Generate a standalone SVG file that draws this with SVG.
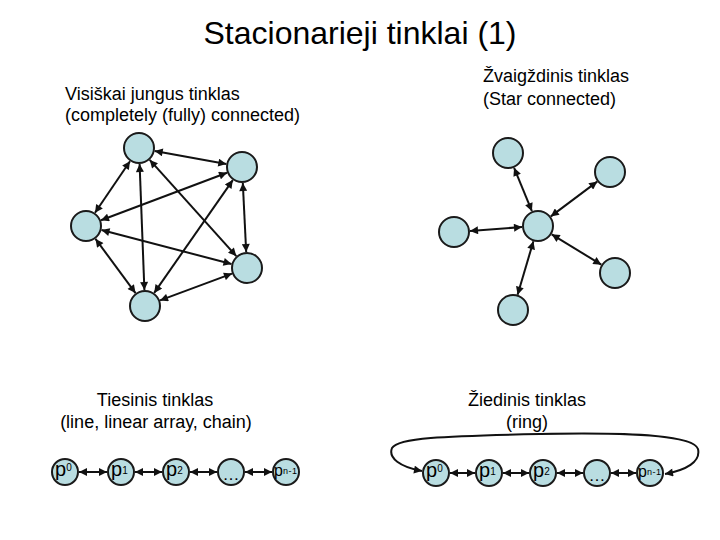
<svg xmlns="http://www.w3.org/2000/svg" width="720" height="540" viewBox="0 0 720 540">
<defs>
<marker id="ah" viewBox="0 0 10 10" refX="10" refY="5" markerWidth="4.5" markerHeight="4" orient="auto-start-reverse" markerUnits="strokeWidth">
<path d="M0,0 L10,5 L0,10 z" fill="#111"/>
</marker>
</defs>
<style>
.t{font-family:"Liberation Sans",Arial,sans-serif;fill:#000}
.title{font-size:32px}
.lbl{font-size:18px}
.n{fill:#b9dde1;stroke:#1a1a1a;stroke-width:2}
.e{stroke:#111;stroke-width:2;fill:none;marker-start:url(#ah);marker-end:url(#ah)}
.p{font-family:"Liberation Sans",Arial,sans-serif;font-size:20px;fill:#000}
.s{font-size:10px}
.sn{font-size:9px;letter-spacing:0.6px}
</style>
<rect width="720" height="540" fill="#fff"/>
<text class="t title" x="360" y="44" text-anchor="middle">Stacionarieji tinklai (1)</text>
<text class="t lbl" x="65" y="100">Visiškai jungus tinklas</text>
<text class="t lbl" x="65" y="121">(completely (fully) connected)</text>
<text class="t lbl" x="483" y="82">Žvaigždinis tinklas</text>
<text class="t lbl" x="483" y="105">(Star connected)</text>
<text class="t lbl" x="155" y="406" text-anchor="middle">Tiesinis tinklas</text>
<text class="t lbl" x="156" y="428" text-anchor="middle">(line, linear array, chain)</text>
<text class="t lbl" x="527" y="406" text-anchor="middle">Žiedinis tinklas</text>
<text class="t lbl" x="527" y="428" text-anchor="middle">(ring)</text>
<g id="connectors">
<line class="e" x1="154.7" y1="150.9" x2="226.3" y2="164.1"/>
<line class="e" x1="130.0" y1="161.2" x2="95.0" y2="212.8"/>
<line class="e" x1="139.6" y1="164.0" x2="144.4" y2="290.0"/>
<line class="e" x1="149.7" y1="159.9" x2="236.3" y2="256.1"/>
<line class="e" x1="227.0" y1="172.7" x2="101.0" y2="220.3"/>
<line class="e" x1="232.8" y1="180.1" x2="154.2" y2="292.9"/>
<line class="e" x1="242.8" y1="183.0" x2="246.2" y2="252.0"/>
<line class="e" x1="101.5" y1="230.0" x2="231.5" y2="264.0"/>
<line class="e" x1="95.5" y1="238.9" x2="135.5" y2="293.1"/>
<line class="e" x1="232.0" y1="273.6" x2="160.0" y2="300.4"/>
<line class="e" x1="531.9" y1="211.2" x2="514.1" y2="167.8"/>
<line class="e" x1="550.8" y1="216.4" x2="597.2" y2="181.6"/>
<line class="e" x1="551.7" y1="234.3" x2="601.3" y2="264.7"/>
<line class="e" x1="533.4" y1="241.3" x2="517.6" y2="294.7"/>
<line class="e" x1="522.0" y1="227.1" x2="470.0" y2="230.9"/>
<line class="e" x1="79" y1="472" x2="107" y2="472"/>
<line class="e" x1="135" y1="472" x2="162" y2="472"/>
<line class="e" x1="190" y1="472" x2="217" y2="472"/>
<line class="e" x1="245" y1="472" x2="272" y2="472"/>
<line class="e" x1="450" y1="473" x2="475" y2="473"/>
<line class="e" x1="503" y1="473" x2="529" y2="473"/>
<line class="e" x1="557" y1="473" x2="583" y2="473"/>
<line class="e" x1="611" y1="473" x2="636" y2="473"/>
<path class="e" d="M422,471 C400,467 388,458 392,448 C398,438 440,436 540,434 C640,432 694,436 698,449 C701,462 686,470 665,474"/>
</g>
<g id="full-a"><circle class="n" cx="139" cy="148" r="15"/></g>
<g id="full-b"><circle class="n" cx="242" cy="167" r="15"/></g>
<g id="full-c"><circle class="n" cx="86" cy="226" r="15"/></g>
<g id="full-d"><circle class="n" cx="247" cy="268" r="15"/></g>
<g id="full-e"><circle class="n" cx="145" cy="306" r="15"/></g>
<g id="star-c"><circle class="n" cx="538" cy="226" r="15"/></g>
<g id="star-tl"><circle class="n" cx="508" cy="153" r="15"/></g>
<g id="star-tr"><circle class="n" cx="610" cy="172" r="15"/></g>
<g id="star-rb"><circle class="n" cx="615" cy="273" r="15"/></g>
<g id="star-b"><circle class="n" cx="513" cy="310" r="15"/></g>
<g id="star-l"><circle class="n" cx="454" cy="232" r="15"/></g>
<g id="line-p0"><circle class="n" cx="65" cy="472" r="13"/><text class="p" x="55" y="476">p<tspan class="s" dy="-5">0</tspan></text></g>
<g id="line-p1"><circle class="n" cx="121" cy="472" r="13"/><text class="p" x="111" y="476">p<tspan class="s" dy="-2">1</tspan></text></g>
<g id="line-p2"><circle class="n" cx="176" cy="472" r="13"/><text class="p" x="166" y="476">p<tspan class="s" dy="-2">2</tspan></text></g>
<g id="line-dots"><circle class="n" cx="231" cy="472" r="13"/><text class="p" x="231" y="480" text-anchor="middle" style="font-size:17px">…</text></g>
<g id="line-pn1"><circle class="n" cx="286" cy="472" r="13"/><text class="p" x="274" y="476" style="font-size:16px">p<tspan class="sn" dy="-2">n-1</tspan></text></g>
<g id="ring-p0"><circle class="n" cx="436" cy="473" r="13"/><text class="p" x="426" y="477">p<tspan class="s" dy="-5">0</tspan></text></g>
<g id="ring-p1"><circle class="n" cx="489" cy="473" r="13"/><text class="p" x="479" y="477">p<tspan class="s" dy="-2">1</tspan></text></g>
<g id="ring-p2"><circle class="n" cx="543" cy="473" r="13"/><text class="p" x="533" y="477">p<tspan class="s" dy="-2">2</tspan></text></g>
<g id="ring-dots"><circle class="n" cx="597" cy="473" r="13"/><text class="p" x="597" y="481" text-anchor="middle" style="font-size:17px">…</text></g>
<g id="ring-pn1"><circle class="n" cx="650" cy="473" r="13"/><text class="p" x="638" y="477" style="font-size:16px">p<tspan class="sn" dy="-2">n-1</tspan></text></g>
</svg>
